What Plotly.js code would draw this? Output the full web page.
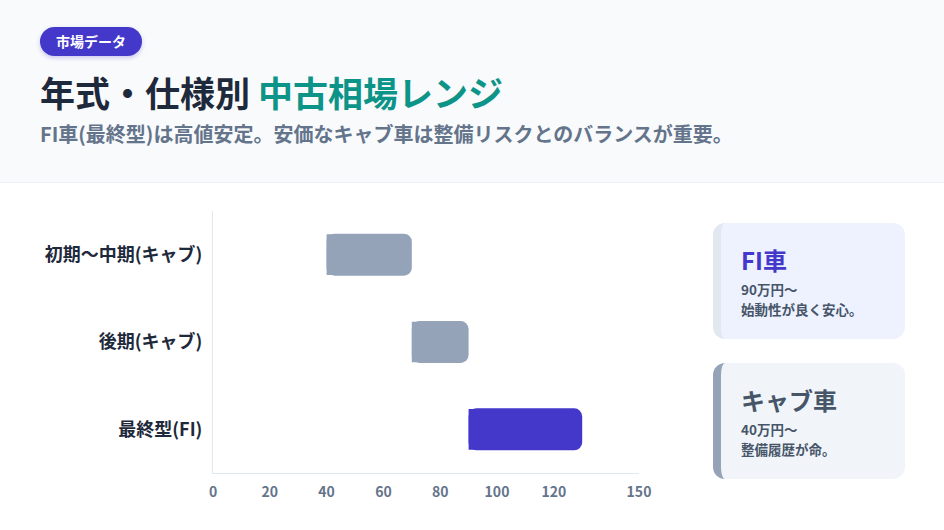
<!DOCTYPE html>
<html lang="ja">
<head>
<meta charset="utf-8">
<script src="https://cdn.plot.ly/plotly-3.0.1.min.js"></script>
<style>
  body {
    margin: 0;
    width: 944px;
    height: 530px;
    background: #ffffff;
    font-family: "Noto Sans CJK JP", "Noto Sans", sans-serif;
    position: relative;
    overflow: hidden;
  }
  .header {
    position: absolute;
    left: 0;
    top: 0;
    width: 944px;
    height: 182px;
    background: #f8fafc;
    border-bottom: 1px solid #eef2f6;
  }
  .badge {
    position: absolute;
    left: 40px;
    top: 27px;
    height: 29px;
    line-height: 29px;
    padding: 0 16px;
    border-radius: 15px;
    background: #4338ca;
    color: #ffffff;
    font-size: 14px;
    font-weight: 700;
    box-shadow: 0 2px 4px rgba(67, 56, 202, 0.25);
  }
  .title {
    position: absolute;
    left: 40px;
    top: 68px;
    font-size: 35px;
    font-weight: 700;
    color: #1e293b;
    line-height: 48px;
    white-space: nowrap;
  }
  .title span { color: #0d9488; }
  .subtitle {
    position: absolute;
    left: 40px;
    top: 120px;
    font-size: 20px;
    font-weight: 700;
    color: #64748b;
    line-height: 28px;
    white-space: nowrap;
  }
  .card {
    position: absolute;
    left: 713px;
    width: 184px;
    height: 116px;
    border-radius: 12px;
    border-left: 8px solid;
    box-sizing: content-box;
  }
  .card h3 {
    margin: 0;
    position: absolute;
    left: 20px;
    top: 20px;
    font-size: 24px;
    line-height: 34px;
    font-weight: 700;
  }
  .card p {
    margin: 0;
    position: absolute;
    left: 20px;
    top: 56px;
    font-size: 13.5px;
    line-height: 20px;
    font-weight: 700;
    color: #475569;
  }
  #chart {
    position: absolute;
    left: 0;
    top: 191px;
    width: 680px;
    height: 340px;
  }
</style>
</head>
<body>
<div class="header">
  <div class="badge">市場データ</div>
  <div class="title">年式・仕様別 <span>中古相場レンジ</span></div>
  <div class="subtitle">FI車(最終型)は高値安定。安価なキャブ車は整備リスクとのバランスが重要。</div>
</div>

<div class="card" style="top:223px; background:#eef2ff; border-left-color:#e2e8f0;">
  <h3 style="color:#4338ca;">FI車</h3>
  <p>90万円〜<br>始動性が良く安心。</p>
</div>
<div class="card" style="top:363px; background:#f1f5f9; border-left-color:#94a3b8;">
  <h3 style="color:#475569;">キャブ車</h3>
  <p>40万円〜<br>整備履歴が命。</p>
</div>

<div id="chart"></div>

<script>
  // price ranges (万円)
  const models = ["初期〜中期(キャブ)", "後期(キャブ)", "最終型(FI)"];
  const priceLow = [40, 70, 90];
  const priceHigh = [70, 90, 130];
  const barColors = ["#94a3b8", "#94a3b8", "#4338ca"];
  const xTicks = [0, 20, 40, 60, 80, 100, 120, 150];

  const spans = priceHigh.map((hi, i) => hi - priceLow[i]);

  // floating bars get all 4 corners rounded, so a slightly thinner
  // square piece underneath fills the left corners back in
  const leftPart = {
    type: "bar",
    orientation: "h",
    y: models,
    x: spans.map((s) => s / 2),
    base: priceLow,
    width: 0.465,
    marker: { color: barColors, opacity: 1, line: { width: 0 } },
    hoverinfo: "skip",
  };
  const bars = {
    type: "bar",
    orientation: "h",
    y: models,
    x: spans,
    base: priceLow,
    width: 0.48,
    marker: { color: barColors, opacity: 1, cornerradius: 8, line: { width: 0 } },
    hoverinfo: "skip",
  };

  Plotly.newPlot(
    "chart",
    [leftPart, bars],
    {
      width: 680,
      height: 340,
      margin: { l: 213, r: 41, t: 20, b: 58 },
      paper_bgcolor: "rgba(0,0,0,0)",
      plot_bgcolor: "rgba(0,0,0,0)",
      showlegend: false,
      barmode: "overlay",
      xaxis: {
        range: [0, 150],
        tickvals: xTicks,
        ticktext: xTicks.map(String),
        showgrid: false,
        zeroline: false,
        showline: true,
        linecolor: "#e2e8f0",
        linewidth: 1,
        ticks: "",
        ticklabelstandoff: 6,
        tickfont: { family: "Noto Sans CJK JP", size: 14, color: "#64748b", weight: 700 },
      },
      yaxis: {
        autorange: "reversed",
        showgrid: false,
        zeroline: false,
        showline: true,
        linecolor: "#e2e8f0",
        linewidth: 1,
        ticks: "",
        ticklabelstandoff: 6,
        tickfont: { family: "Noto Sans CJK JP", size: 18, color: "#1e293b", weight: 700 },
      },
    },
    { staticPlot: true, displayModeBar: false }
  );
</script>
</body>
</html>
